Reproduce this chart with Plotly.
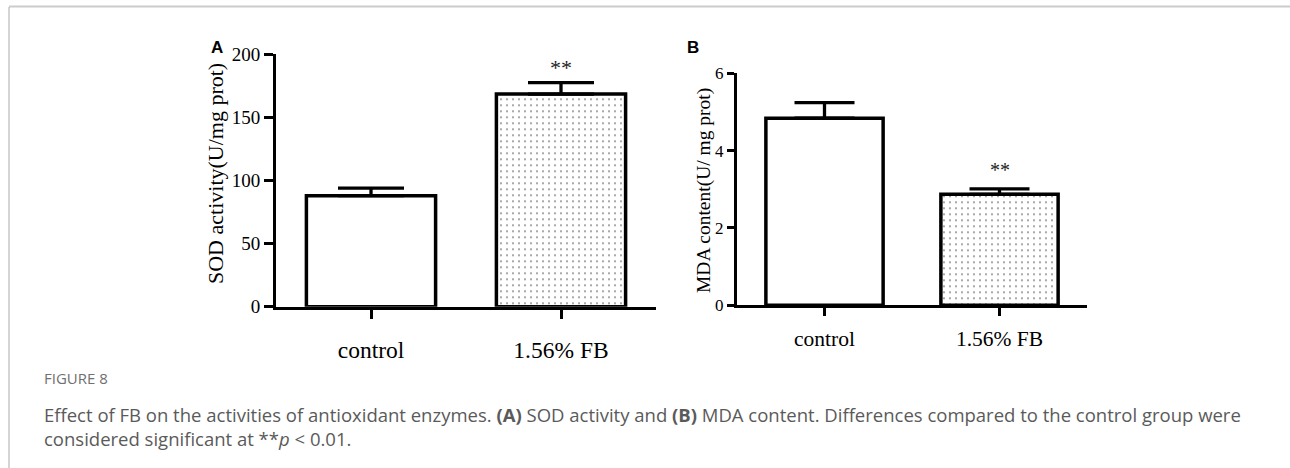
import plotly.graph_objects as go

W, H = 1290, 468

categories = ["control", "1.56% FB"]
sod_values = [88.0, 168.5]
sod_errors = [6.0, 9.0]
mda_values = [4.84, 2.87]
mda_errors = [0.40, 0.14]
sod_ticks = [0, 50, 100, 150, 200]
mda_ticks = [0, 2, 4, 6]
sig_labels = ["", "**"]

SERIF = "Liberation Serif, Times New Roman, serif"
SANS = "Open Sans, Liberation Sans, sans-serif"


def px(x):
    return x / W


def py(y):
    return (H - y) / H


fig = go.Figure()

for xa, ya, vals, errs, bw, capw in [
    ("x", "y", sod_values, sod_errors, 0.68, 33),
    ("x2", "y2", mda_values, mda_errors, 0.67, 30),
]:
    fig.add_trace(go.Bar(
        x=categories, y=vals, xaxis=xa, yaxis=ya, width=bw,
        marker=dict(
            color="white",
            line=dict(color="black", width=3.5),
            pattern=dict(
                shape=["", "."], fgcolor="#808080", bgcolor="white",
                size=6, solidity=0.07,
            ),
        ),
        error_y=dict(
            type="data", symmetric=False, array=errs, arrayminus=[0, 0],
            color="black", thickness=3.3, width=capw,
        ),
        showlegend=False, hoverinfo="skip",
    ))

axis_common = dict(
    showline=True, linecolor="black", linewidth=3,
    showgrid=False, zeroline=False, ticks="outside",
    tickcolor="black", tickwidth=3, automargin=False,
)

fig.update_layout(
    template="none",
    width=W, height=H,
    margin=dict(l=0, r=0, t=0, b=0, pad=0, autoexpand=False),
    paper_bgcolor="white", plot_bgcolor="white",
    xaxis=dict(domain=[px(276), px(656)], anchor="y", type="category",
               range=[-0.5, 1.5], ticklen=9, ticklabelstandoff=11,
               tickfont=dict(family=SERIF, size=23.5, color="black"),
               **axis_common),
    yaxis=dict(domain=[py(306.7), py(54.3)], anchor="x", range=[0, 200],
               tickvals=sod_ticks, ticklen=9, ticklabelstandoff=0,
               tickfont=dict(family=SERIF, size=19, color="black"),
               **axis_common),
    xaxis2=dict(domain=[px(737), px(1087)], anchor="y2", type="category",
                range=[-0.5, 1.5], ticklen=8, ticklabelstandoff=4,
                tickfont=dict(family=SERIF, size=21.5, color="black"),
                **axis_common),
    yaxis2=dict(domain=[py(305.3), py(73.3)], anchor="x2", range=[0, 6],
                tickvals=mda_ticks, ticklen=7, ticklabelstandoff=0,
                tickfont=dict(family=SERIF, size=17, color="black"),
                **axis_common),
)

annotations = []
# significance marks from data
for i, lab in enumerate(sig_labels):
    if lab:
        annotations.append(dict(
            x=categories[i], y=sod_values[i] + sod_errors[i], xref="x", yref="y",
            text=lab, showarrow=False, yanchor="bottom", yshift=1,
            font=dict(family=SERIF, size=22, color="#222")))
        annotations.append(dict(
            x=categories[i], y=mda_values[i] + mda_errors[i], xref="x2", yref="y2",
            text=lab, showarrow=False, yanchor="bottom", yshift=6,
            font=dict(family=SERIF, size=20, color="#222")))

# axis titles
annotations.append(dict(x=px(215), y=py(174), xref="paper", yref="paper",
                        text="SOD activity(U/mg prot)", textangle=-90,
                        showarrow=False, xanchor="center", yanchor="middle",
                        font=dict(family=SERIF, size=22, color="black")))
annotations.append(dict(x=px(704), y=py(191), xref="paper", yref="paper",
                        text="MDA content(U/ mg prot)", textangle=-90,
                        showarrow=False, xanchor="center", yanchor="middle",
                        font=dict(family=SERIF, size=19.5, color="black")))
# panel letters
for letter, x in [("A", 217), ("B", 693)]:
    annotations.append(dict(x=px(x), y=py(48), xref="paper", yref="paper",
                            text="<b>%s</b>" % letter, showarrow=False,
                            xanchor="center", yanchor="middle",
                            font=dict(family="Liberation Sans, Arial, sans-serif",
                                      size=17, color="black")))
# caption
annotations.append(dict(x=px(42), y=py(378), xref="paper", yref="paper",
                        text="FIGURE 8", showarrow=False, xanchor="left",
                        yanchor="middle",
                        font=dict(family=SANS, size=15, color="#707070")))
annotations.append(dict(
    x=px(42), y=py(426), xref="paper", yref="paper",
    text=("Effect of FB on the activities of antioxidant enzymes. <b>(A)</b> SOD activity "
          "and <b>(B)</b> MDA content. Differences compared to the control group were"
          "<br>considered significant at **<i>p</i> &lt; 0.01."),
    showarrow=False, xanchor="left", yanchor="middle", align="left",
    font=dict(family=SANS, size=18.5, color="#5a5a5a")))

fig.update_layout(annotations=annotations)

# figure frame lines (top and left)
fig.add_shape(type="line", xref="paper", yref="paper",
              x0=px(9), x1=1, y0=py(6.5), y1=py(6.5),
              line=dict(color="#cccccc", width=2))
fig.add_shape(type="line", xref="paper", yref="paper",
              x0=px(9), x1=px(9), y0=py(7), y1=0,
              line=dict(color="#aaaaaa", width=1))

fig.write_html("out.html")
